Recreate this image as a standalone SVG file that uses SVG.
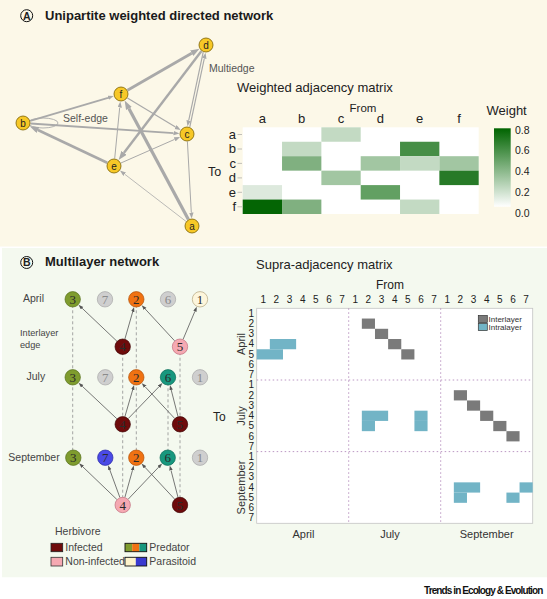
<svg xmlns="http://www.w3.org/2000/svg" width="547" height="599" viewBox="0 0 547 599">
<defs>
<style>
text{font-family:"Liberation Sans",Arial,sans-serif;fill:#222}
.ttl{font-size:13px;font-weight:bold;fill:#1a1a1a}
.lbl{font-size:10.5px;fill:#444}
.ax{font-size:13px;fill:#222}
.nA{fill:#f7c827;stroke:#7a6000;stroke-width:0.8}
.tA{font-size:10px;text-anchor:middle;fill:#222}
.eA{stroke:#a9a9a9;fill:none}
.eB{stroke:#555;stroke-width:0.8;fill:none;marker-end:url(#arrB)}
.dash{stroke:#9a9a9a;stroke-width:0.9;stroke-dasharray:3,2.5;fill:none}
.tB{font-family:"Liberation Serif","Times New Roman",serif;font-size:13px;text-anchor:middle;fill:#2a2a2a}
.tBg{font-family:"Liberation Serif","Times New Roman",serif;font-size:13px;text-anchor:middle;fill:#8a8a8a}
.gry{fill:#cfcfcf;stroke:#a8a8a8;stroke-width:0.7}
.olv{fill:#7f9c2e;stroke:#56701c;stroke-width:0.7}
.org{fill:#f07212;stroke:#b05008;stroke-width:0.7}
.crm{fill:#fdf6dc;stroke:#b3a57e;stroke-width:0.7}
.drd{fill:#6e0b0b;stroke:#3e0505;stroke-width:0.7}
.pnk{fill:#f5a9b2;stroke:#c07080;stroke-width:0.7}
.tel{fill:#17977e;stroke:#0d6b58;stroke-width:0.7}
.blu{fill:#4a4ae6;stroke:#2a2aa0;stroke-width:0.7}
.cn{font-size:10px;text-anchor:middle;fill:#333}
.rn{font-size:10px;text-anchor:end;fill:#333}
.inter{fill:#7a7a7a}
.intra{fill:#72b4c6}
.sep{stroke:#b48cbc;stroke-width:0.9;stroke-dasharray:1.5,2.5;fill:none}
</style>
<marker id="arrS" markerUnits="userSpaceOnUse" markerWidth="6" markerHeight="5" refX="0" refY="2.25" orient="auto"><path d="M0,0 L6,2.25 L0,4.5 z" fill="#a9a9a9"/></marker>
<marker id="arrL" markerUnits="userSpaceOnUse" markerWidth="9" markerHeight="7" refX="0" refY="3.25" orient="auto"><path d="M0,0 L9,3.25 L0,6.5 z" fill="#a9a9a9"/></marker>
<marker id="arrB" markerUnits="userSpaceOnUse" markerWidth="5" markerHeight="4" refX="0" refY="1.75" orient="auto"><path d="M0,0 L5,1.75 L0,3.5 z" fill="#555"/></marker>
<linearGradient id="wg" x1="0" y1="0" x2="0" y2="1"><stop offset="0" stop-color="#006400"/><stop offset="1" stop-color="#ffffff"/></linearGradient>
</defs>

<rect x="0" y="0" width="547" height="246.5" fill="#fcf8e8"/>
<rect x="2" y="248" width="545" height="329.5" fill="#f4f9ef"/>
<rect x="0" y="577.5" width="547" height="21.5" fill="#ffffff"/>

<!-- Panel A title -->
<g id="titleA">
<circle cx="26.7" cy="15.7" r="6" fill="none" stroke="#111" stroke-width="1"/>
<text x="26.7" y="19.6" style="font-size:10.5px;font-weight:bold;text-anchor:middle">A</text>
<text class="ttl" x="45" y="20">Unipartite weighted directed network</text>
</g>

<!-- Panel A connectors -->
<g id="connectorsA">
<ellipse cx="43" cy="123" rx="15" ry="5" class="eA" stroke-width="0.9"/>
<line class="eA" x1="186.0" y1="221.4" x2="124.7" y2="174.2" stroke-width="0.8" marker-end="url(#arrS)"/>
<line class="eA" x1="188.4" y1="219.4" x2="128.9" y2="108.5" stroke-width="3.2" marker-end="url(#arrL)"/>
<line class="eA" x1="30.5" y1="123.5" x2="173.5" y2="133.1" stroke-width="1.8" marker-end="url(#arrS)"/>
<line class="eA" x1="30.2" y1="120.9" x2="108.0" y2="97.8" stroke-width="1.8" marker-end="url(#arrS)"/>
<line class="eA" x1="187.4" y1="141.5" x2="191.3" y2="212.5" stroke-width="1" marker-end="url(#arrS)"/>
<line class="eA" x1="189.8" y1="126.9" x2="204.3" y2="58.5" stroke-width="1.2" marker-end="url(#arrS)"/>
<line class="eA" x1="203.2" y1="52.1" x2="188.7" y2="120.5" stroke-width="1.2" marker-end="url(#arrS)"/>
<line class="eA" x1="201.5" y1="51.0" x2="124.0" y2="152.8" stroke-width="2.4" marker-end="url(#arrL)"/>
<line class="eA" x1="107.2" y1="162.8" x2="37.9" y2="130.0" stroke-width="2.6" marker-end="url(#arrL)"/>
<line class="eA" x1="120.9" y1="163.0" x2="174.6" y2="139.4" stroke-width="1" marker-end="url(#arrS)"/>
<line class="eA" x1="114.7" y1="158.5" x2="119.7" y2="107.5" stroke-width="1" marker-end="url(#arrS)"/>
<line class="eA" x1="127.4" y1="97.9" x2="175.5" y2="127.0" stroke-width="1.2" marker-end="url(#arrS)"/>
<line class="eA" x1="127.5" y1="90.3" x2="191.7" y2="53.2" stroke-width="2.8" marker-end="url(#arrL)"/>
</g>
<text class="lbl" x="209" y="71.5" style="fill:#555">Multiedge</text>
<text class="lbl" x="63" y="122" style="fill:#555">Self-edge</text>

<!-- Panel A nodes -->
<g id="node-a"><circle class="nA" cx="192" cy="226" r="7"/><text class="tA" x="192" y="229.5">a</text></g>
<g id="node-b"><circle class="nA" cx="23" cy="123" r="7"/><text class="tA" x="23" y="126.5">b</text></g>
<g id="node-c"><circle class="nA" cx="187" cy="134" r="7"/><text class="tA" x="187" y="137.5">c</text></g>
<g id="node-d"><circle class="nA" cx="206" cy="45" r="7"/><text class="tA" x="206" y="48.5">d</text></g>
<g id="node-e"><circle class="nA" cx="114" cy="166" r="7"/><text class="tA" x="114" y="169.5">e</text></g>
<g id="node-f"><circle class="nA" cx="121" cy="94" r="7"/><text class="tA" x="121" y="97.5">f</text></g>

<!-- Weighted adjacency matrix -->
<g id="heatmap">
<text x="237" y="92.3" style="font-size:13px">Weighted adjacency matrix</text>
<text x="363" y="111.5" style="font-size:11.5px;text-anchor:middle">From</text>
<g class="ax" style="text-anchor:middle">
<text x="262.4" y="122.7">a</text><text x="301.7" y="122.7">b</text><text x="341.0" y="122.7">c</text>
<text x="380.4" y="122.7">d</text><text x="419.7" y="122.7">e</text><text x="459.0" y="122.7">f</text>
</g>
<g class="ax" style="text-anchor:end">
<text x="236" y="139">a</text><text x="236" y="153.4">b</text><text x="236" y="167.8">c</text>
<text x="236" y="182.2">d</text><text x="236" y="196.6">e</text><text x="236" y="211">f</text>
</g>
<text x="208" y="175.7" style="font-size:12.5px">To</text>
<g stroke="#999" stroke-width="0.6">
<line x1="237.5" y1="134.5" x2="242" y2="134.5"/><line x1="237.5" y1="149" x2="242" y2="149"/>
<line x1="237.5" y1="163.4" x2="242" y2="163.4"/><line x1="237.5" y1="177.9" x2="242" y2="177.9"/>
<line x1="237.5" y1="192.3" x2="242" y2="192.3"/><line x1="237.5" y1="206.8" x2="242" y2="206.8"/>
</g>
<rect x="242.7" y="127.3" width="236" height="86.7" fill="#ffffff"/>
<rect x="321.37" y="127.3" width="39.33" height="14.45" fill="#c3dac3"/>
<rect x="282.03" y="141.75" width="39.33" height="14.45" fill="#c3dac3"/>
<rect x="400.03" y="141.75" width="39.33" height="14.45" fill="#468e46"/>
<rect x="282.03" y="156.2" width="39.33" height="14.45" fill="#80b080"/>
<rect x="360.7" y="156.2" width="39.33" height="14.45" fill="#a2c6a2"/>
<rect x="400.03" y="156.2" width="39.33" height="14.45" fill="#c3dac3"/>
<rect x="439.37" y="156.2" width="39.33" height="14.45" fill="#a2c6a2"/>
<rect x="321.37" y="170.65" width="39.33" height="14.45" fill="#a2c6a2"/>
<rect x="439.37" y="170.65" width="39.33" height="14.45" fill="#277a27"/>
<rect x="242.7" y="185.1" width="39.33" height="14.45" fill="#dde9dd"/>
<rect x="360.7" y="185.1" width="39.33" height="14.45" fill="#62a062"/>
<rect x="242.7" y="199.55" width="39.33" height="14.45" fill="#046504"/>
<rect x="282.03" y="199.55" width="39.33" height="14.45" fill="#80b080"/>
<rect x="400.03" y="199.55" width="39.33" height="14.45" fill="#c3dac3"/>
<text x="486.5" y="115" style="font-size:13px">Weight</text>
<rect x="494" y="128.3" width="16.7" height="78.4" fill="url(#wg)"/>
<g style="font-size:10.5px;fill:#333">
<text x="515" y="134">0.8</text><text x="515" y="154">0.6</text><text x="515" y="175">0.4</text>
<text x="515" y="196">0.2</text><text x="515" y="217">0.0</text>
</g>
</g>

<!-- Panel B title -->
<g id="titleB">
<circle cx="26.7" cy="262.5" r="6" fill="none" stroke="#111" stroke-width="1"/>
<text x="26.7" y="266.4" style="font-size:10.5px;font-weight:bold;text-anchor:middle">B</text>
<text class="ttl" x="45" y="266">Multilayer network</text>
</g>

<text class="lbl" x="23" y="302">April</text>
<text class="lbl" x="20" y="335.7" style="font-size:9.2px">Interlayer</text>
<text class="lbl" x="20" y="347.7" style="font-size:9.2px">edge</text>
<text class="lbl" x="26.5" y="380">July</text>
<text class="lbl" x="8.3" y="461">September</text>

<!-- Panel B connectors -->
<g id="connectorsB">
<line class="dash" x1="72.7" y1="299.3" x2="72.7" y2="457.7"/>
<line class="dash" x1="136.3" y1="299.3" x2="136.3" y2="457.7"/>
<line class="dash" x1="122.7" y1="346.7" x2="122.7" y2="505"/>
<line class="dash" x1="180" y1="346.7" x2="180" y2="505"/>
<line class="dash" x1="168" y1="377.3" x2="168" y2="457.7"/>
<line class="eB" x1="116.9" y1="341.2" x2="82.1" y2="308.2"/>
<line class="eB" x1="124.9" y1="339.0" x2="132.7" y2="311.8"/>
<line class="eB" x1="174.6" y1="340.8" x2="145.1" y2="308.9"/>
<line class="eB" x1="183.1" y1="339.3" x2="194.9" y2="311.3"/>
<line class="eB" x1="116.9" y1="418.8" x2="82.2" y2="386.2"/>
<line class="eB" x1="124.9" y1="416.6" x2="132.7" y2="389.8"/>
<line class="eB" x1="128.3" y1="418.5" x2="159.0" y2="386.7"/>
<line class="eB" x1="174.6" y1="418.4" x2="145.2" y2="386.8"/>
<line class="eB" x1="178.0" y1="416.5" x2="171.2" y2="389.9"/>
<line class="eB" x1="116.9" y1="499.5" x2="82.7" y2="466.7"/>
<line class="eB" x1="119.9" y1="497.5" x2="109.8" y2="469.9"/>
<line class="eB" x1="124.9" y1="497.3" x2="132.5" y2="470.2"/>
<line class="eB" x1="128.2" y1="499.2" x2="158.7" y2="467.1"/>
<line class="eB" x1="174.6" y1="499.1" x2="144.9" y2="467.2"/>
<line class="eB" x1="178.0" y1="497.3" x2="171.0" y2="470.3"/>
</g>

<!-- Panel B nodes: April -->
<g id="apr-3"><circle class="olv" cx="72.7" cy="299.3" r="7.7"/><text class="tB" x="72.7" y="303.8">3</text></g>
<g id="apr-7"><circle class="gry" cx="105" cy="299.3" r="7.7"/><text class="tBg" x="105" y="303.8">7</text></g>
<g id="apr-2"><circle class="org" cx="136.3" cy="299.3" r="7.7"/><text class="tB" x="136.3" y="303.8">2</text></g>
<g id="apr-6"><circle class="gry" cx="168" cy="299.3" r="7.7"/><text class="tBg" x="168" y="303.8">6</text></g>
<g id="apr-1"><circle class="crm" cx="200" cy="299.3" r="7.7"/><text class="tB" x="200" y="303.8">1</text></g>
<g id="apr-h4"><circle class="drd" cx="122.7" cy="346.7" r="7.7"/><text class="tB" x="122.7" y="351.2">4</text></g>
<g id="apr-h5"><circle class="pnk" cx="180" cy="346.7" r="7.7"/><text class="tB" x="180" y="351.2">5</text></g>
<!-- July -->
<g id="jul-3"><circle class="olv" cx="72.7" cy="377.3" r="7.7"/><text class="tB" x="72.7" y="381.8">3</text></g>
<g id="jul-7"><circle class="gry" cx="105.3" cy="377.3" r="7.7"/><text class="tBg" x="105.3" y="381.8">7</text></g>
<g id="jul-2"><circle class="org" cx="136.3" cy="377.3" r="7.7"/><text class="tB" x="136.3" y="381.8">2</text></g>
<g id="jul-6"><circle class="tel" cx="168" cy="377.3" r="7.7"/><text class="tB" x="168" y="381.8">6</text></g>
<g id="jul-1"><circle class="gry" cx="200" cy="377.3" r="7.7"/><text class="tBg" x="200" y="381.8">1</text></g>
<g id="jul-h4"><circle class="drd" cx="122.7" cy="424.3" r="7.7"/><text class="tB" x="122.7" y="428.8">4</text></g>
<g id="jul-h5"><circle class="drd" cx="180" cy="424.3" r="7.7"/><text class="tB" x="180" y="428.8">5</text></g>
<!-- September -->
<g id="sep-3"><circle class="olv" cx="73.3" cy="457.7" r="7.7"/><text class="tB" x="73.3" y="462.2">3</text></g>
<g id="sep-7"><circle class="blu" cx="105.3" cy="457.7" r="7.7"/><text class="tB" x="105.3" y="462.2">7</text></g>
<g id="sep-2"><circle class="org" cx="136.3" cy="457.7" r="7.7"/><text class="tB" x="136.3" y="462.2">2</text></g>
<g id="sep-6"><circle class="tel" cx="167.7" cy="457.7" r="7.7"/><text class="tB" x="167.7" y="462.2">6</text></g>
<g id="sep-1"><circle class="gry" cx="200" cy="457.7" r="7.7"/><text class="tBg" x="200" y="462.2">1</text></g>
<g id="sep-h4"><circle class="pnk" cx="122.7" cy="505" r="7.7"/><text class="tB" x="122.7" y="509.5">4</text></g>
<g id="sep-h5"><circle class="drd" cx="180" cy="505" r="7.7"/><text class="tB" x="180" y="509.5">5</text></g>

<!-- Legend B -->
<g id="legendB">
<text class="lbl" x="55" y="535">Herbivore</text>
<rect x="51" y="543.3" width="11.7" height="8.4" fill="#6e0b0b" stroke="#222" stroke-width="0.8"/>
<text class="lbl" x="65.3" y="551.3">Infected</text>
<rect x="51" y="557.3" width="11.7" height="8.7" fill="#f5a9b2" stroke="#333" stroke-width="0.8"/>
<text class="lbl" x="65.3" y="565">Non-infected</text>
<rect x="125" y="543.3" width="7.2" height="8.4" fill="#7f9c2e"/>
<rect x="132.2" y="543.3" width="7.2" height="8.4" fill="#f07212"/>
<rect x="139.4" y="543.3" width="7.3" height="8.4" fill="#17977e"/>
<rect x="125" y="543.3" width="21.7" height="8.4" fill="none" stroke="#111" stroke-width="0.9"/>
<text class="lbl" x="149.3" y="551.3">Predator</text>
<rect x="125" y="557.3" width="10.8" height="8.7" fill="#fdf3cc"/>
<rect x="135.8" y="557.3" width="10.9" height="8.7" fill="#3a3ad0"/>
<rect x="125" y="557.3" width="21.7" height="8.7" fill="none" stroke="#111" stroke-width="0.9"/>
<text class="lbl" x="149.3" y="565">Parasitoid</text>
</g>

<!-- Supra-adjacency matrix -->
<g id="supra">
<text x="256" y="269.3" style="font-size:13px">Supra-adjacency matrix</text>
<text x="390" y="288.5" style="font-size:12px;text-anchor:middle">From</text>
<g class="cn">
<text x="263.3" y="302.7">1</text><text x="276.4" y="302.7">2</text><text x="289.6" y="302.7">3</text><text x="302.7" y="302.7">4</text><text x="315.8" y="302.7">5</text><text x="329.0" y="302.7">6</text><text x="342.1" y="302.7">7</text>
<text x="355.3" y="302.7">1</text><text x="368.4" y="302.7">2</text><text x="381.6" y="302.7">3</text><text x="394.7" y="302.7">4</text><text x="407.8" y="302.7">5</text><text x="421.0" y="302.7">6</text><text x="434.1" y="302.7">7</text>
<text x="447.3" y="302.7">1</text><text x="460.4" y="302.7">2</text><text x="473.6" y="302.7">3</text><text x="486.7" y="302.7">4</text><text x="499.8" y="302.7">5</text><text x="513.0" y="302.7">6</text><text x="526.1" y="302.7">7</text>
</g>
<g class="rn">
<text x="254" y="316.6">1</text><text x="254" y="326.8">2</text><text x="254" y="337.1">3</text><text x="254" y="347.3">4</text><text x="254" y="357.6">5</text><text x="254" y="367.8">6</text><text x="254" y="378.0">7</text>
<text x="254" y="388.3">1</text><text x="254" y="398.5">2</text><text x="254" y="408.7">3</text><text x="254" y="419.0">4</text><text x="254" y="429.2">5</text><text x="254" y="439.5">6</text><text x="254" y="449.7">7</text>
<text x="254" y="459.9">1</text><text x="254" y="470.2">2</text><text x="254" y="480.4">3</text><text x="254" y="490.7">4</text><text x="254" y="500.9">5</text><text x="254" y="511.1">6</text><text x="254" y="521.4">7</text>
</g>
<text x="0" y="0" transform="translate(244.5,344) rotate(-90)" style="font-size:11px;text-anchor:middle;fill:#333">April</text>
<text x="0" y="0" transform="translate(244.5,416) rotate(-90)" style="font-size:11px;text-anchor:middle;fill:#333">July</text>
<text x="0" y="0" transform="translate(244.5,487.5) rotate(-90)" style="font-size:11px;text-anchor:middle;fill:#333">September</text>
<text x="213" y="420.5" style="font-size:12px">To</text>
<rect x="256.7" y="308.3" width="276" height="215" fill="#ffffff" stroke="#c4c4c4" stroke-width="0.8"/>
<line class="sep" x1="348.7" y1="308.3" x2="348.7" y2="523.3"/>
<line class="sep" x1="440.7" y1="308.3" x2="440.7" y2="523.3"/>
<line class="sep" x1="256.7" y1="380" x2="532.7" y2="380"/>
<line class="sep" x1="256.7" y1="451.6" x2="532.7" y2="451.6"/>
<g class="inter">
<rect x="361.84" y="318.54" width="13.14" height="10.24"/>
<rect x="374.99" y="328.78" width="13.14" height="10.24"/>
<rect x="388.13" y="339.01" width="13.14" height="10.24"/>
<rect x="401.27" y="349.25" width="13.14" height="10.24"/>
<rect x="453.84" y="390.20" width="13.14" height="10.24"/>
<rect x="466.99" y="400.44" width="13.14" height="10.24"/>
<rect x="480.13" y="410.68" width="13.14" height="10.24"/>
<rect x="493.27" y="420.92" width="13.14" height="10.24"/>
<rect x="506.42" y="431.16" width="13.14" height="10.24"/>
</g>
<g class="intra">
<rect x="269.84" y="339.01" width="26.29" height="10.24"/>
<rect x="256.7" y="349.25" width="26.29" height="10.24"/>
<rect x="361.84" y="410.68" width="26.29" height="10.24"/>
<rect x="414.42" y="410.68" width="13.14" height="10.24"/>
<rect x="361.84" y="420.92" width="13.14" height="10.24"/>
<rect x="414.42" y="420.92" width="13.14" height="10.24"/>
<rect x="453.84" y="482.35" width="26.29" height="10.24"/>
<rect x="519.56" y="482.35" width="13.14" height="10.24"/>
<rect x="453.84" y="492.58" width="13.14" height="10.24"/>
<rect x="506.42" y="492.58" width="13.14" height="10.24"/>
</g>
<rect x="478.3" y="315.5" width="9" height="7" fill="#7a7a7a" stroke="#333" stroke-width="0.7"/>
<rect x="478.3" y="323.5" width="9" height="7" fill="#72b4c6" stroke="#333" stroke-width="0.7"/>
<text x="488.5" y="322" style="font-size:8px;fill:#333">Interlayer</text>
<text x="488.5" y="330.3" style="font-size:8px;fill:#333">Intralayer</text>
<text x="303.5" y="537.5" style="font-size:11px;text-anchor:middle;fill:#333">April</text>
<text x="390" y="537.5" style="font-size:11px;text-anchor:middle;fill:#333">July</text>
<text x="486.7" y="537.5" style="font-size:11px;text-anchor:middle;fill:#333">September</text>
</g>

<text x="424" y="594" style="font-size:10px;font-weight:bold;letter-spacing:-0.9px;fill:#111">Trends in Ecology &amp; Evolution</text>
</svg>
